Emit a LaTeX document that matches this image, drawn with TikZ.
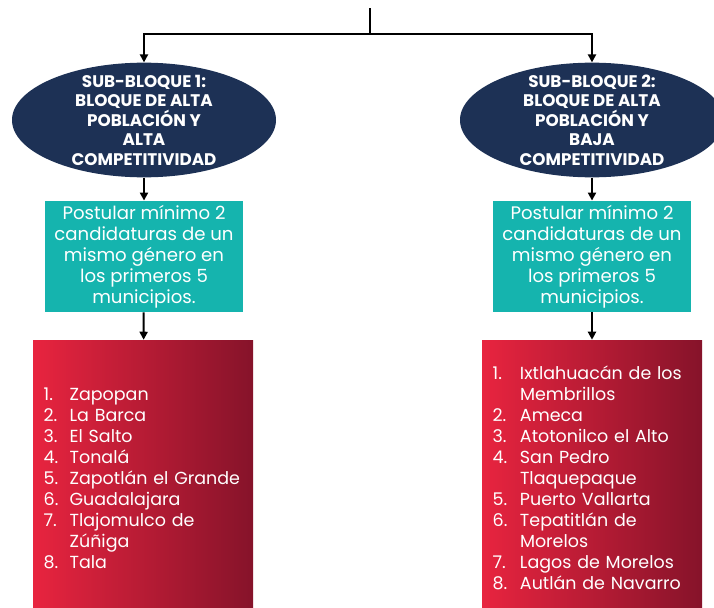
\documentclass[tikz,border=0pt]{standalone}
\usepackage{fontspec}
\setmainfont{Poppins}
\usepackage{tikz}
\usetikzlibrary{arrows.meta,shapes.geometric,positioning}
\definecolor{navy}{HTML}{1D3155}
\definecolor{teal1}{HTML}{15B4AE}
\definecolor{redL}{HTML}{E8243F}
\definecolor{redR}{HTML}{86132A}
\setlength{\parindent}{0pt}

\begin{document}
\begin{tikzpicture}
[x=0.75pt,y=-0.75pt,
link/.style={line width=1.5pt,-{Triangle[length=6pt,width=6pt]}},
bloque/.style={ellipse,fill=navy,inner sep=0pt,minimum width=198pt,minimum height=86pt},
regla/.style={rectangle,fill=teal1,text=white,inner sep=0pt,minimum width=148.5pt,
minimum height=83.5pt,align=center,font=\fontsize{13.6}{15.75}\selectfont},
lista/.style={rectangle,left color=redL,right color=redR,text=white,inner xsep=8pt,
text width=149pt,minimum height=210pt,align=left,font=\fontsize{13.1}{15.75}\selectfont}]
\useasboundingbox (0,0) rectangle (714,607);
\tikzset{etiq/.style={text=white,align=center,font=\fontsize{12.6}{14.6}\selectfont\bfseries}}
% bloques
\node at (144,120) [bloque,label={[etiq]center:SUB-BLOQUE 1:\\BLOQUE DE ALTA\\POBLACIÓN Y\\ALTA\\COMPETITIVIDAD}] (sb1){};
\node at (592,120) [bloque,label={[etiq]center:SUB-BLOQUE 2:\\BLOQUE DE ALTA\\POBLACIÓN Y\\BAJA\\COMPETITIVIDAD}] (sb2){};
% reglas
\node at (144,256.5) [regla] (r1){Postular mínimo 2\\candidaturas de un\\mismo género en\\los primeros 5\\municipios.};
\node at (592,256.5) [regla] (r2){Postular mínimo 2\\candidaturas de un\\mismo género en\\los primeros 5\\municipios.};
% municipios
\node at (143,480) [lista] (m1){\begin{tabular}{@{}p{19.5pt}@{}l@{}}
1. & Zapopan\\ 2. & La Barca\\ 3. & El Salto\\ 4. & Tonalá\\
5. & Zapotlán el Grande\\ 6. & Guadalajara\\ 7. & Tlajomulco de\\
 & Zúñiga\\ 8. & Tala\end{tabular}};
\node at (592,480) [lista] (m2){\begin{tabular}{@{}p{20.5pt}@{}l@{}}
1. & Ixtlahuacán de los\\ & Membrillos\\ 2. & Ameca\\ 3. & Atotonilco el Alto\\
4. & San Pedro\\ & Tlaquepaque\\ 5. & Puerto Vallarta\\ 6. & Tepatitlán de\\
 & Morelos\\ 7. & Lagos de Morelos\\ 8. & Autlán de Navarro\end{tabular}};
% conectores
\coordinate (top) at (370,8);
\coordinate (split) at (370,34);
\draw [line width=1.5pt] (top) -- (split);
\draw [link] (split) -| (sb1);
\draw [link] (split) -| (sb2);
\draw [link] (sb1) -- (r1);
\draw [link] (sb2) -- (r2);
\draw [link] (r1) -- (m1);
\draw [link] (r2) -- (m2);
\end{tikzpicture}
\end{document}
